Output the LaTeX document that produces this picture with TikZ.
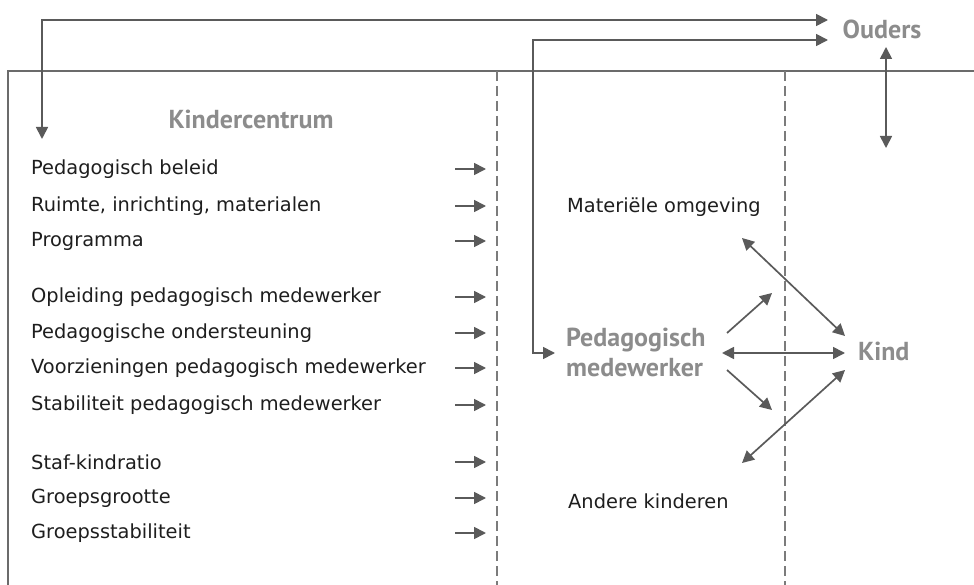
\documentclass[tikz,border=0pt]{standalone}
\usepackage{fontspec}
\setmainfont{DejaVu Sans}
\newfontfamily\titlefont{PT Sans}
\usetikzlibrary{arrows.meta}
\definecolor{linegray}{HTML}{5A5A5A}
\definecolor{titlegray}{HTML}{8C8C8C}
\definecolor{itemblack}{HTML}{1E1E1E}
\tikzset{
  conn/.style={draw=linegray, line width=1.7pt},
  tip/.style={-{Triangle[length=12pt,width=12pt]}},
  bitip/.style={{Triangle[length=12pt,width=12pt]}-{Triangle[length=12pt,width=12pt]}},
  item/.style={anchor=west, inner sep=0pt, text=itemblack, font=\fontsize{19.4}{22}\selectfont},
  title/.style={inner sep=0pt, text=titlegray, font=\titlefont\bfseries\fontsize{26}{26}\selectfont},
  bigtitle/.style={inner sep=0pt, text=titlegray, font=\titlefont\bfseries\fontsize{26}{30}\selectfont, align=left},
  plain/.style={anchor=west, inner sep=0pt, text=itemblack, font=\fontsize{19.4}{22}\selectfont},
  divider/.style={draw=linegray!80, line width=1.2pt, dash pattern=on 10pt off 5pt}
}
\begin{document}
\begin{tikzpicture}[x=1pt,y=-1pt]
\useasboundingbox (0,0) rectangle (974,585);
% frame
\draw[draw=linegray!90, line width=1.4pt] (8,585) -- (8,71) -- (974,71);
\draw[divider] (497,71) -- (497,585);
\draw[divider] (785,71) -- (785,585);
% titles
\node[title] (ouders) at (882,29) {Ouders};
\node[title] (kc) at (251,119) {Kindercentrum};
\node[bigtitle, anchor=west] (pm) at (566,352) {Pedagogisch\\medewerker};
\node[bigtitle, anchor=west] (kind) at (858,351) {Kind};
\node[plain] (mat) at (567,207) {Materiële omgeving};
\node[plain] (andere) at (568,501) {Andere kinderen};
% items
\foreach \name/\y/\t in {i1/169/Pedagogisch beleid, i2/206/{Ruimte, inrichting, materialen}, i3/241/Programma,
  i4/297/Opleiding pedagogisch medewerker, i5/333/Pedagogische ondersteuning, i6/368/Voorzieningen pedagogisch medewerker,
  i7/405/Stabiliteit pedagogisch medewerker, i8/462/Staf-kindratio, i9/498/Groepsgrootte, i10/533/Groepsstabiliteit}{
  \node[item] (\name) at (31,\y) {\t};
  \coordinate (\name s) at (455,\y);
  \coordinate (\name e) at (486,\y);
  \draw[conn, tip] (\name s) -- (\name e);
}
% top connectors
\coordinate (a1) at (42,139);
\coordinate (a1c) at (42,20);
\coordinate (a1e) at (828,20);
\draw[conn, bitip] (a1) -- (a1c) -- (a1e);
\coordinate (a2c) at (533,40);
\coordinate (a2e) at (828,40);
\coordinate (a2b) at (533,353);
\coordinate (a2t) at (555,353);
\draw[conn, bitip] (a2e) -- (a2c) -- (a2b) -- (a2t);
\coordinate (o1) at (886,47);
\coordinate (o2) at (886,148);
\draw[conn, bitip] (o1) -- (o2);
% right arrows
\coordinate (d1a) at (742,238);
\coordinate (d1b) at (845,336);
\draw[conn, bitip] (d1a) -- (d1b);
\coordinate (d2a) at (742,463);
\coordinate (d2b) at (845,370);
\draw[conn, bitip] (d2a) -- (d2b);
\coordinate (h1) at (722,353);
\coordinate (h2) at (845,353);
\draw[conn, bitip] (h1) -- (h2);
\coordinate (s1a) at (727,333);
\coordinate (s1b) at (772,293);
\draw[conn, tip] (s1a) -- (s1b);
\coordinate (s2a) at (727,370);
\coordinate (s2b) at (772,410);
\draw[conn, tip] (s2a) -- (s2b);
\end{tikzpicture}
\end{document}
